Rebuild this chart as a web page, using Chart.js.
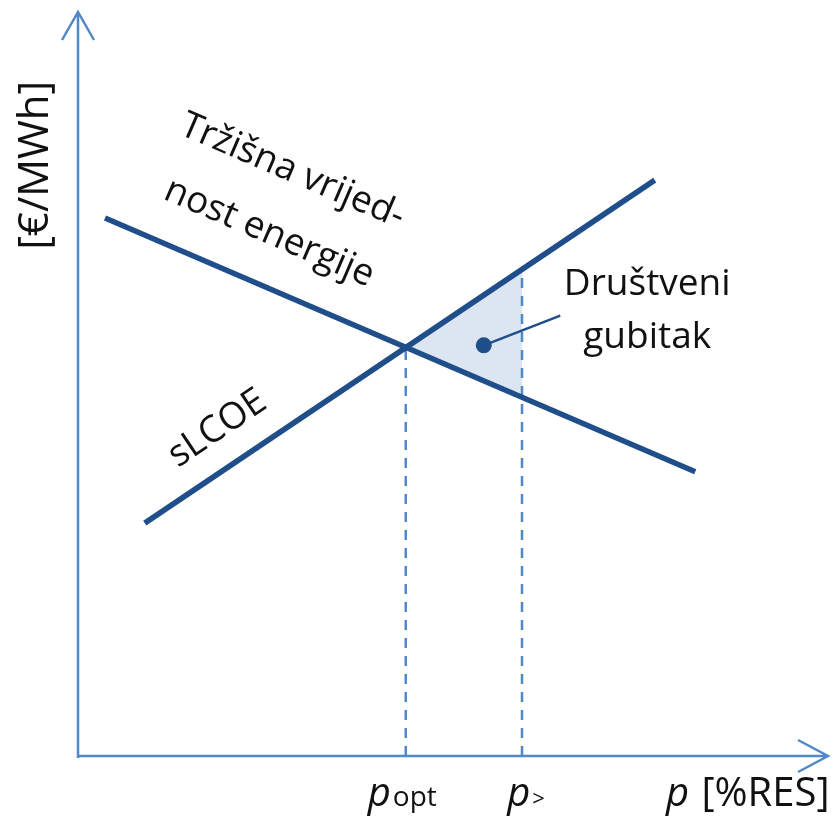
<!DOCTYPE html>
<html>
<head>
<meta charset="utf-8">
<script src="https://cdn.jsdelivr.net/npm/chart.js@4.4.0/dist/chart.umd.min.js"></script>
<style>
  html, body { margin: 0; padding: 0; background: #fff; }
  #wrap { width: 836px; height: 819px; }
</style>
</head>
<body>
<div id="wrap"><canvas id="chart"></canvas></div>
<script>
// x = share of RES (0..100), y = €/MWh (0..100), both schematic
var marketX = [3.6, 82.3];
var marketY = [72.3, 38.2];
var slcoeX = [8.9, 76.9];
var slcoeY = [31.3, 77.4];
var pOpt = 43.7;
var pOptY = 54.9;
var pBig = 59.2;
var pBigTop = 65.4;
var pBigBottom = 48.2;
var lossDot = [54.1, 55.2];
var lossLeader = [64.3, 59.2];

var darkBlue = '#1f4e8a';
var axisBlue = '#5288c8';
var fillBlue = 'rgba(220, 230, 242, 1)';
var textFont = '"Open Sans", "DejaVu Sans", sans-serif';

function pts(xs, ys) {
    var out = [];
    for (var i = 0; i < xs.length; i++) out.push({x: xs[i], y: ys[i]});
    return out;
}

// axes with arrowheads plus the rotated labels
var sketchPlugin = {
    id: 'sketch',
    afterDatasetsDraw: function(chart) {
        var ctx = chart.ctx;
        var xs = chart.scales.x, ys = chart.scales.y;
        var x0 = xs.getPixelForValue(0), y0 = ys.getPixelForValue(0);
        var xEnd = xs.getPixelForValue(100), yEnd = ys.getPixelForValue(100);

        ctx.save();
        ctx.strokeStyle = axisBlue;
        ctx.lineWidth = 2.5;
        ctx.beginPath();
        ctx.moveTo(x0, y0 + 2); ctx.lineTo(x0, yEnd);
        ctx.moveTo(x0 - 1, y0); ctx.lineTo(xEnd, y0);
        // arrow heads
        ctx.moveTo(x0 - 16, yEnd + 28); ctx.lineTo(x0, yEnd); ctx.lineTo(x0 + 16, yEnd + 28);
        ctx.moveTo(xEnd - 30, y0 - 16); ctx.lineTo(xEnd, y0); ctx.lineTo(xEnd - 30, y0 + 16);
        ctx.stroke();
        ctx.restore();

        function label(text, vx, vy, angle, size, align) {
            ctx.save();
            ctx.translate(xs.getPixelForValue(vx), ys.getPixelForValue(vy));
            ctx.rotate(angle * Math.PI / 180);
            ctx.fillStyle = '#111';
            ctx.font = size + 'px ' + textFont;
            ctx.textAlign = align || 'center';
            ctx.textBaseline = 'middle';
            ctx.fillText(text, 0, 0);
            ctx.restore();
        }

        label('Tržišna vrijed-', 28.6, 78.6, 23.3, 37);
        label('nost energije', 25.5, 70.3, 23.3, 37);
        label('sLCOE', 18.6, 44.0, -34, 37);
        label('Društveni', 75.9, 63.4, 0, 37);
        label('gubitak', 75.9, 56.3, 0, 37);
        label('[€/MWh]', -5.6, 79.4, -90, 42);

        // bottom labels: italic p with plain suffix
        function pLabel(main, sub, vx, subSize, align) {
            var px = xs.getPixelForValue(vx), py = y0 + 50;
            ctx.save();
            ctx.fillStyle = '#111';
            ctx.textBaseline = 'alphabetic';
            ctx.textAlign = 'left';
            ctx.font = 'italic 40px ' + textFont;
            var w1 = ctx.measureText(main).width;
            ctx.font = subSize + 'px ' + textFont;
            var w2 = ctx.measureText(sub).width;
            var left = align === 'right' ? px - w1 - w2 - 2 : px - (w1 + w2) / 2;
            ctx.font = 'italic 40px ' + textFont;
            ctx.fillText(main, left, py);
            ctx.font = subSize + 'px ' + textFont;
            ctx.fillText(sub, left + w1 + 2, py);
            ctx.restore();
        }
        pLabel('p', 'opt', pOpt - 0.6, 28);
        pLabel('p', '>', pBig + 0.4, 22);
        pLabel('p', ' [%RES]', 100.2, 40, 'right');
    }
};

new Chart(document.getElementById('chart'), {
    type: 'scatter',
    data: {
        datasets: [
            {
                label: 'Društveni gubitak',
                data: pts([pOpt, pBig, pBig], [pOptY, pBigTop, pBigBottom]),
                showLine: true,
                fill: 'shape',
                backgroundColor: fillBlue,
                borderWidth: 0,
                pointRadius: 0,
                order: 5
            },
            {
                label: 'p_opt',
                data: pts([pOpt, pOpt], [0, pOptY]),
                showLine: true,
                borderColor: axisBlue,
                borderWidth: 2.5,
                borderDash: [10, 8],
                pointRadius: 0,
                order: 4
            },
            {
                label: 'p_>',
                data: pts([pBig, pBig], [0, pBigTop]),
                showLine: true,
                borderColor: axisBlue,
                borderWidth: 2.5,
                borderDash: [10, 8],
                pointRadius: 0,
                order: 4
            },
            {
                label: 'Tržišna vrijednost energije',
                data: pts(marketX, marketY),
                showLine: true,
                borderColor: darkBlue,
                borderWidth: 5.5,
                pointRadius: 0,
                order: 1
            },
            {
                label: 'sLCOE',
                data: pts(slcoeX, slcoeY),
                showLine: true,
                borderColor: darkBlue,
                borderWidth: 5.5,
                pointRadius: 0,
                order: 1
            },
            {
                label: 'leader',
                data: pts([lossDot[0], lossLeader[0]], [lossDot[1], lossLeader[1]]),
                showLine: true,
                borderColor: darkBlue,
                borderWidth: 2.5,
                pointRadius: 0,
                order: 2
            },
            {
                label: 'dot',
                data: pts([lossDot[0]], [lossDot[1]]),
                pointRadius: 8,
                pointBackgroundColor: darkBlue,
                pointBorderWidth: 0,
                order: 2
            }
        ]
    },
    options: {
        responsive: true,
        maintainAspectRatio: false,
        animation: false,
        layout: { padding: { left: 78, right: 8, top: 12, bottom: 63 } },
        plugins: {
            legend: { display: false },
            tooltip: { enabled: false }
        },
        scales: {
            x: { type: 'linear', min: 0, max: 100, display: false },
            y: { type: 'linear', min: 0, max: 100, display: false }
        }
    },
    plugins: [sketchPlugin]
});
</script>
</body>
</html>
